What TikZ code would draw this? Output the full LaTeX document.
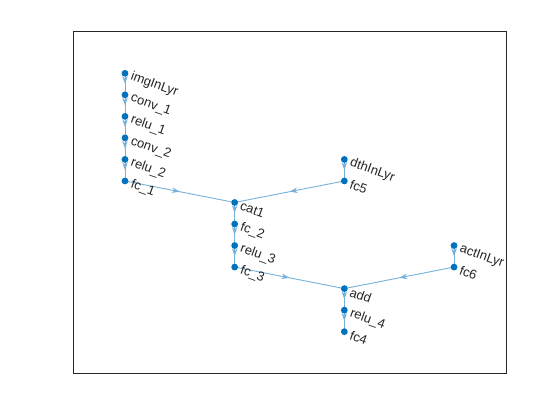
\documentclass[tikz,border=0pt]{standalone}
\usepackage{fontspec}
\setmainfont{Liberation Sans}
\usetikzlibrary{arrows.meta,decorations.markings}
\definecolor{nodeblue}{RGB}{0,114,189}
\definecolor{edgeblue}{RGB}{118,178,218}
\definecolor{axgray}{RGB}{38,38,38}
\pgfdeclarelayer{bg}\pgfsetlayers{bg,main}
\tikzset{
 gdot/.style={circle,fill=nodeblue,inner sep=0pt,minimum size=6.8pt},
 glabel/.style={anchor=west,rotate=-20,font=\fontsize{13}{13}\selectfont,text=axgray,inner sep=0pt},
 gedge/.style={draw=edgeblue,line width=0.9pt,postaction={decorate},
   decoration={markings,mark=at position 0.5 with {\arrow{Stealth[length=8pt,width=5.5pt,fill=edgeblue]}}}},
}
\begin{document}
\begin{tikzpicture}
\useasboundingbox (0pt,0pt) rectangle (560pt,-420pt);
\begin{scope}[shift={(125pt,-73.3pt)},x=109.67pt,y=-21.53pt]
\node[gdot] (imgInLyr) at (0,0) {};
\node[gdot] (conva) at (0,1) {};
\node[gdot] (relua) at (0,2) {};
\node[gdot] (convb) at (0,3) {};
\node[gdot] (relub) at (0,4) {};
\node[gdot] (fca) at (0,5) {};
\node[gdot] (catone) at (1,6) {};
\node[gdot] (fcb) at (1,7) {};
\node[gdot] (reluc) at (1,8) {};
\node[gdot] (fcc) at (1,9) {};
\node[gdot] (dthInLyr) at (2,4) {};
\node[gdot] (fcfive) at (2,5) {};
\node[gdot] (add) at (2,10) {};
\node[gdot] (relud) at (2,11) {};
\node[gdot] (fcfour) at (2,12) {};
\node[gdot] (actInLyr) at (3,8) {};
\node[gdot] (fcsix) at (3,9) {};
\end{scope}
\begin{pgfonlayer}{bg}
\fill[white] (0pt,0pt) rectangle (560pt,-420pt);
\draw[axgray,line width=0.8pt] (73pt,-31.5pt) rectangle (506.5pt,-373.5pt);
\path[gedge] (imgInLyr.center) -- (conva.center);
\path[gedge] (conva.center) -- (relua.center);
\path[gedge] (relua.center) -- (convb.center);
\path[gedge] (convb.center) -- (relub.center);
\path[gedge] (relub.center) -- (fca.center);
\path[gedge] (fca.center) -- (catone.center);
\path[gedge] (dthInLyr.center) -- (fcfive.center);
\path[gedge] (fcfive.center) -- (catone.center);
\path[gedge] (catone.center) -- (fcb.center);
\path[gedge] (fcb.center) -- (reluc.center);
\path[gedge] (reluc.center) -- (fcc.center);
\path[gedge] (fcc.center) -- (add.center);
\path[gedge] (actInLyr.center) -- (fcsix.center);
\path[gedge] (fcsix.center) -- (add.center);
\path[gedge] (add.center) -- (relud.center);
\path[gedge] (relud.center) -- (fcfour.center);
\end{pgfonlayer}
\path (imgInLyr.center) ++(6pt,-3pt) node[glabel] (limg) {imgInLyr};
\path (conva.center) ++(6pt,-3pt) node[glabel] (lconva) {conv\_1};
\path (relua.center) ++(6pt,-3pt) node[glabel] (lrelua) {relu\_1};
\path (convb.center) ++(6pt,-3pt) node[glabel] (lconvb) {conv\_2};
\path (relub.center) ++(6pt,-3pt) node[glabel] (lrelub) {relu\_2};
\path (fca.center) ++(6pt,-3pt) node[glabel] (lfca) {fc\_1};
\path (catone.center) ++(6pt,-3pt) node[glabel] (lcat) {cat1};
\path (fcb.center) ++(6pt,-3pt) node[glabel] (lfcb) {fc\_2};
\path (reluc.center) ++(6pt,-3pt) node[glabel] (lreluc) {relu\_3};
\path (fcc.center) ++(6pt,-3pt) node[glabel] (lfcc) {fc\_3};
\path (dthInLyr.center) ++(6pt,-3pt) node[glabel] (ldth) {dthInLyr};
\path (fcfive.center) ++(6pt,-3pt) node[glabel] (lfcfive) {fc5};
\path (add.center) ++(6pt,-3pt) node[glabel] (ladd) {add};
\path (relud.center) ++(6pt,-3pt) node[glabel] (lrelud) {relu\_4};
\path (fcfour.center) ++(6pt,-3pt) node[glabel] (lfcfour) {fc4};
\path (actInLyr.center) ++(6pt,-3pt) node[glabel] (lact) {actInLyr};
\path (fcsix.center) ++(6pt,-3pt) node[glabel] (lfcsix) {fc6};
\end{tikzpicture}
\end{document}
